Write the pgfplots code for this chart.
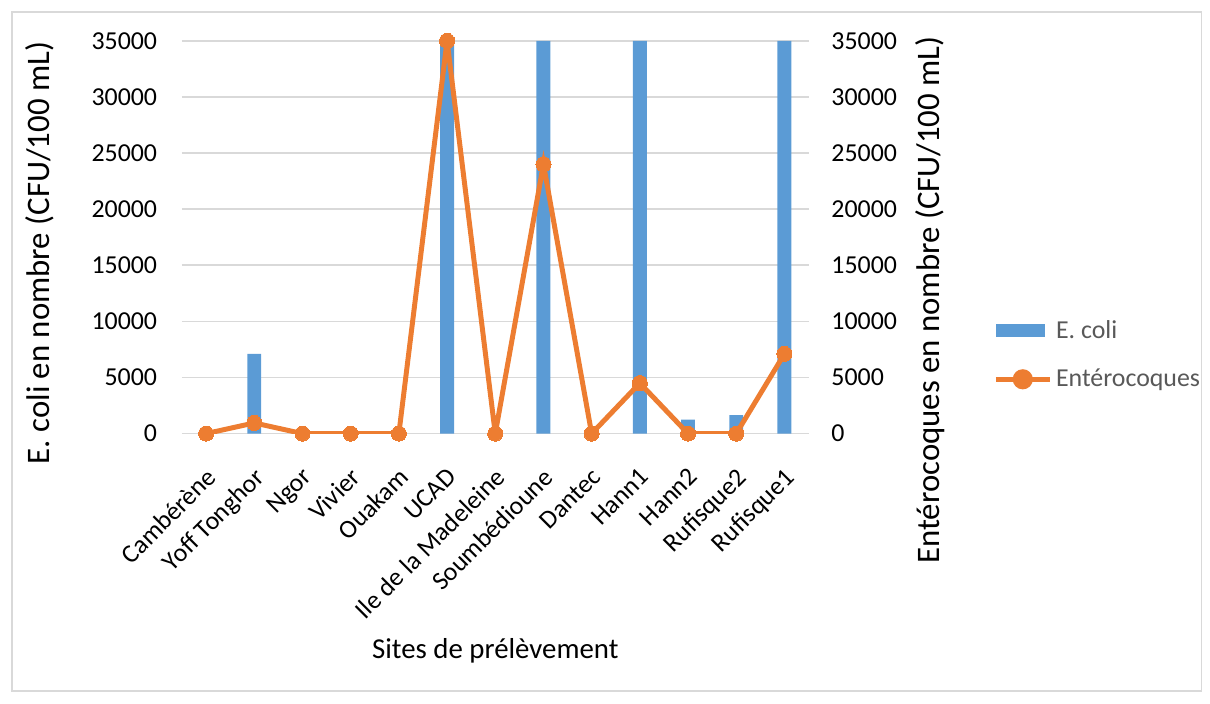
\documentclass[border=0pt]{standalone}
\usepackage{fontspec}
\setmainfont{Carlito}
\usepackage{pgfplots}
\pgfplotsset{compat=1.18}

\definecolor{ecoli}{HTML}{5B9BD5}
\definecolor{entero}{HTML}{ED7D31}
\definecolor{gridgray}{HTML}{D9D9D9}
\definecolor{frame}{HTML}{D9D9D9}
\definecolor{legtext}{HTML}{595959}

\pgfplotsset{
  common/.style={
    scale only axis,
    width=315pt, height=197.5pt,
    xmin=-0.5, xmax=12.5,
    ymin=0, ymax=35000,
    ytick={0,5000,...,35000},
    scaled y ticks=false,
    /pgf/number format/assume math mode=true,
    /pgf/number format/set thousands separator={},
    axis line style={draw=none},
    tick style={draw=none},
    ticklabel style={font=\fontsize{13}{15}\selectfont},
    label style={font=\fontsize{14.5}{17}\selectfont},
    ylabel style={font=\fontsize{16.5}{19}\selectfont},
  }
}

\begin{document}
\begin{tikzpicture}
\begin{axis}[common, name=ax,
  ymajorgrids, grid style={gridgray, line width=0.8pt},
  xtick=data,
  xticklabels={Cambérène,Yoff Tonghor,Ngor,Vivier,Ouakam,UCAD,Ile de la Madeleine,Soumbédioune,Dantec,Hann1,Hann2,Rufisque2,Rufisque1},
  xticklabel style={rotate=45, anchor=north east, inner sep=1pt, yshift=-7pt, xshift=-8pt},
  yticklabel style={xshift=-9pt},
  xlabel={Sites de prélèvement},
  xlabel style={at={(axis description cs:0.5,-0.554)}, anchor=center},
  ylabel={E. coli en nombre (CFU/100 mL)},
  ylabel style={at={(axis description cs:-0.227,0.46)}, anchor=center},
  ybar, bar width=7pt,
]
\addplot[fill=ecoli, draw=none] coordinates {
(0,0) (1,7100) (2,0) (3,0) (4,0) (5,35000) (6,0) (7,35000) (8,0) (9,35000) (10,1250) (11,1650) (12,35000)};
\end{axis}
\begin{axis}[common,
  axis y line*=right,
  axis x line=none,
  yticklabel style={xshift=8pt},
  ylabel={Entérocoques en nombre (CFU/100 mL)},
  ylabel style={at={(axis description cs:1.194,0.34)}, anchor=center},
  legend style={draw=none, at={(1.285,0.31)}, anchor=north west,
    font=\fontsize{13}{15}\selectfont\color{legtext}, row sep=10pt},
  legend cell align=left,
]
\addlegendimage{legend image code/.code={\fill[ecoli] (0pt,-3pt) rectangle (24.5pt,3pt);}}
\addlegendentry{E. coli}
\addplot[entero, line width=2.5pt, mark=*, mark size=3.8pt, mark options={fill=entero, draw=entero, line width=0pt},
  legend image code/.code={\draw[entero, line width=2.5pt] (0pt,0pt) -- (27pt,0pt); \fill[entero] (13.5pt,0pt) circle (3.8pt);}] coordinates {
(0,0) (1,950) (2,0) (3,0) (4,0) (5,35000) (6,0) (7,24000) (8,0) (9,4500) (10,0) (11,0) (12,7100)};
\addlegendentry{Entérocoques}
\end{axis}
\draw[frame, line width=0.8pt] ([shift={(-85.5pt,-129.5pt)}]ax.south west) rectangle ([shift={(512.5pt,212pt)}]ax.south west);
\path ([shift={(-91.5pt,-135.5pt)}]ax.south west) rectangle ([shift={(513pt,218pt)}]ax.south west);
\end{tikzpicture}
\end{document}
